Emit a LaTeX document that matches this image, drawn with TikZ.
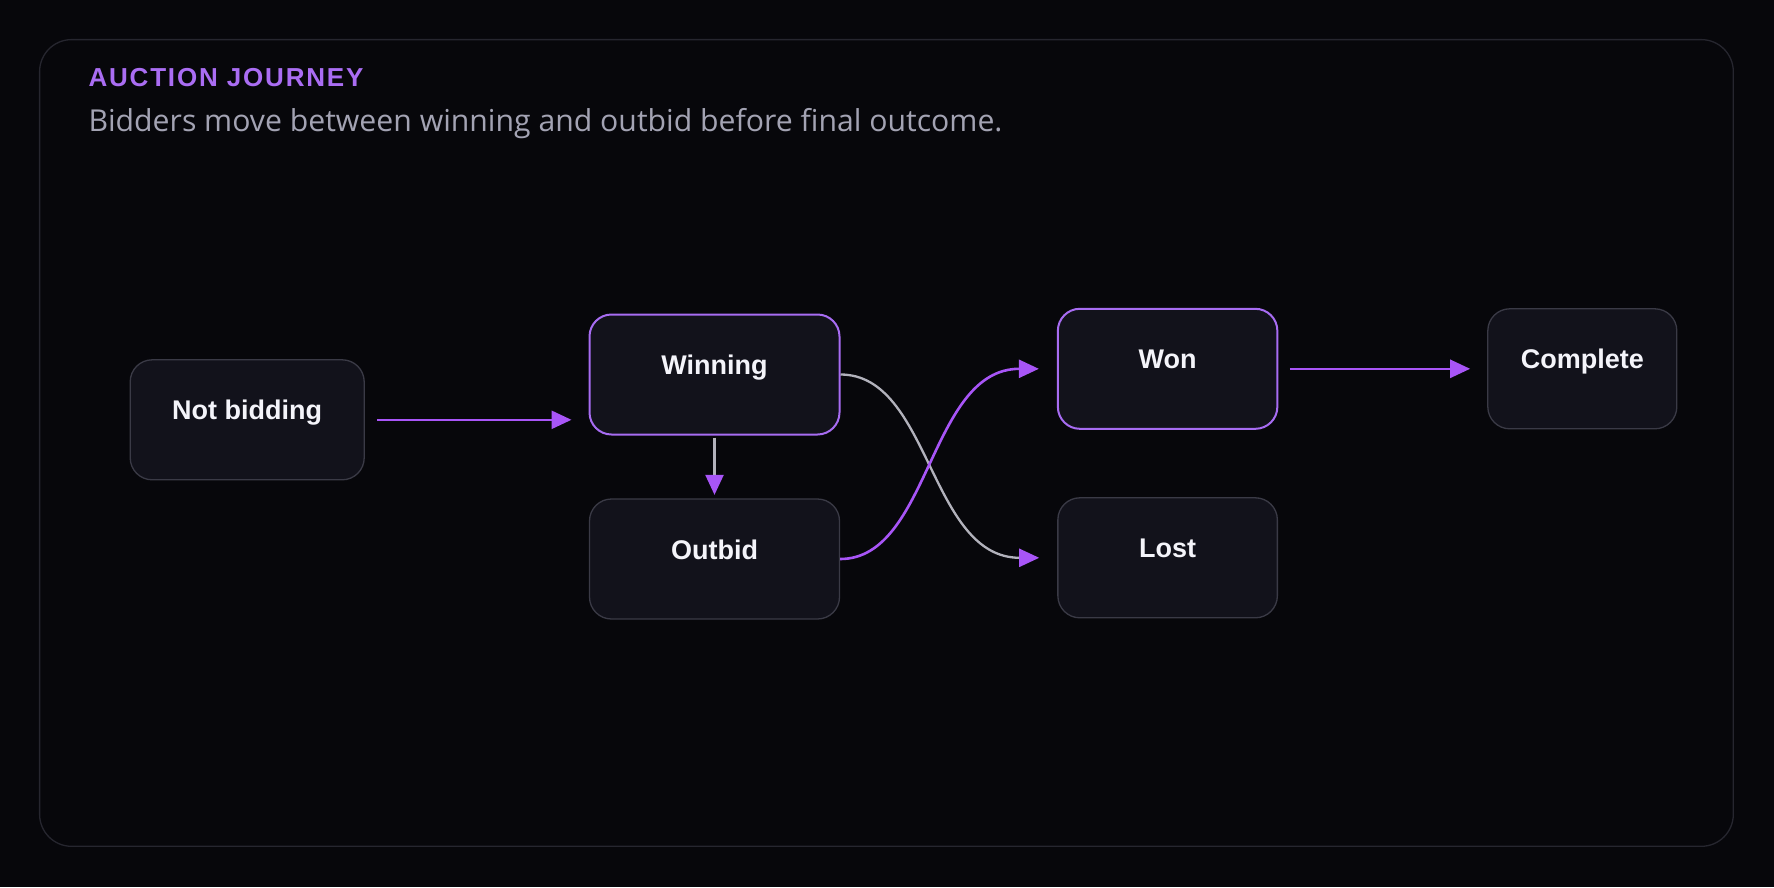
\documentclass[tikz,border=0pt]{standalone}
\usepackage{fontspec}
\setmainfont{Liberation Sans}
\newfontfamily\titlefont[LetterSpace=7]{Liberation Sans}
\newfontfamily\subfont{Open Sans}
\usetikzlibrary{arrows.meta,calc}
\definecolor{bg}{HTML}{07070B}
\definecolor{frameline}{HTML}{26262F}
\definecolor{nodefill}{HTML}{12121B}
\definecolor{nodeline}{HTML}{3A3A46}
\definecolor{hotline}{HTML}{A76CF2}
\definecolor{accent}{HTML}{A855F7}
\definecolor{titlecol}{HTML}{AA6DF3}
\definecolor{subcol}{HTML}{A3A3B3}
\definecolor{nodetext}{HTML}{F4F4FA}
\definecolor{greyline}{HTML}{B2B2BC}
\begin{document}
\begin{tikzpicture}[x=1pt,y=-1pt,
  box/.style={draw=nodeline, line width=1.3pt, fill=nodefill, rounded corners=22pt,
    minimum height=120pt, inner sep=0pt, text height=14pt, text depth=14pt,
    font=\fontsize{27}{30}\selectfont\bfseries, text=nodetext},
  hot/.style={box, draw=hotline, line width=2pt},
  tip/.style={-{Triangle[length=20pt,width=18pt,color=accent]}},
  purpleflow/.style={tip, draw=accent, line width=2.6pt},
  greyflow/.style={tip, draw=greyline, line width=2.3pt}]
\useasboundingbox (0,0) rectangle (1774,887);
\fill[bg] (0,0) rectangle (1774,887);
\draw[frameline, line width=1.3pt, rounded corners=32pt] (39.6,39.6) rectangle (1733.3,846.3);
\node[anchor=base west, inner sep=0pt, text=titlecol, font=\titlefont\fontsize{26}{30}\selectfont\bfseries] (title) at (88.3,86.5) {AUCTION JOURNEY};
\node[anchor=base west, inner sep=0pt, text=subcol, font=\subfont\fontsize{30.2}{34}\selectfont] (sub) at (88.3,131.5) {Bidders move between winning and outbid before final outcome.};
\node[box, minimum width=234pt] (nb) at (247.2,419.8) {Not bidding};
\node[hot, minimum width=250pt] (win) at (714.5,374.5) {Winning};
\node[box, minimum width=250pt] (out) at (714.5,559) {Outbid};
\node[hot, minimum width=219.5pt] (won) at (1167.6,368.8) {Won};
\node[box, minimum width=219.5pt] (lost) at (1167.6,557.8) {Lost};
\node[box, minimum width=189pt] (done) at (1582.3,368.8) {Complete};
\draw[purpleflow, shorten <=12.5pt, shorten >=17pt] (nb.east) -- (nb.east -| win.west);
\draw[greyflow, shorten <=2pt, shorten >=3.5pt] (win.south) -- (out.north);
\draw[greyflow, shorten >=18pt] (win.east) .. controls +(90,0) and +(-128,0) .. (lost.west);
\draw[purpleflow, shorten >=18pt] (out.east) .. controls +(90,0) and +(-128,0) .. (won.west);
\draw[purpleflow, shorten <=11.4pt, shorten >=17pt] (won.east) -- (done.west);
\end{tikzpicture}
\end{document}
